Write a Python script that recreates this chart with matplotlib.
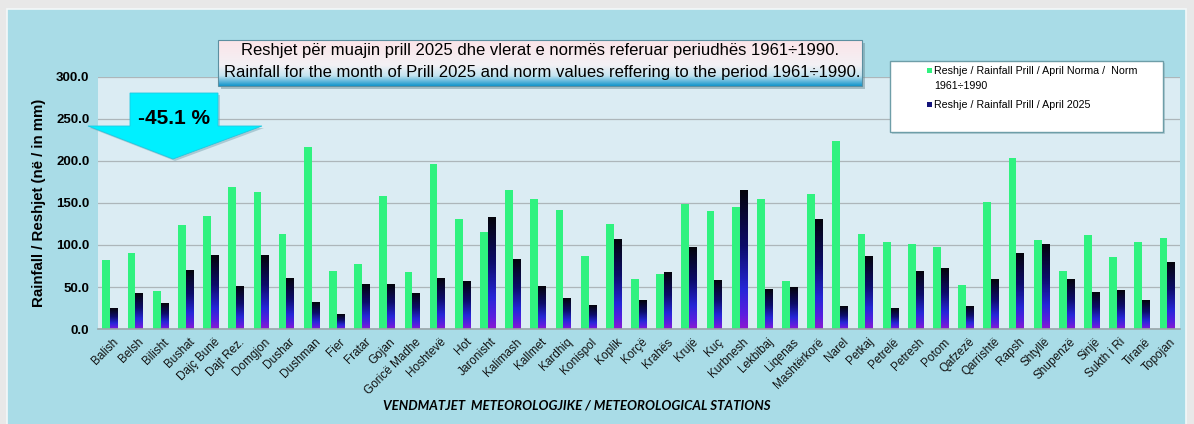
import numpy as np
import matplotlib
matplotlib.use("Agg")
import matplotlib.pyplot as plt
from matplotlib.colors import LinearSegmentedColormap
from matplotlib.patches import Rectangle, Polygon

# April rainfall per station: long term norm (1961-1990) and April 2025, mm
stations = ["Balish", "Belsh", "Bilisht", "Bushat", "Dajç Bunë", "Dajt Rez.",
            "Domgjon", "Dushar", "Dushman", "Fier", "Fratar", "Gojan",
            "Goricë Madhe", "Hoshtevë", "Hot", "Jaronisht", "Kalimash",
            "Kallmet", "Kardhiq", "Konispol", "Koplik", "Korçë", "Krahës",
            "Krujë", "Kuç", "Kurbnesh", "Lekbibaj", "Liqenas", "Mashtërkorë",
            "Narel", "Petkaj", "Petrelë", "Petresh", "Potom", "Qafzezë",
            "Qarrishtë", "Rapsh", "Shtyllë", "Shupenzë", "Sinjë", "Sukth i Ri",
            "Tiranë", "Topojan"]
norm_1961_1990 = [82, 91, 45, 124, 135, 169, 163, 113, 217, 69, 77, 158,
                  68, 197, 131, 115, 165, 155, 142, 87, 125, 60, 66,
                  149, 141, 145, 155, 57, 161, 224, 113, 104, 101, 98, 52,
                  151, 203, 106, 69, 112, 86, 103, 108]
april_2025 = [24, 42, 30, 70, 87, 50, 87, 60, 31, 17, 53, 53,
              42, 60, 56, 133, 83, 51, 36, 28, 107, 34, 67,
              97, 58, 165, 47, 49, 130, 27, 86, 24, 68, 72, 27,
              59, 90, 100, 59, 43, 46, 34, 79]
change_label = "-45.1 %"

W, H = 1194, 424
fig = plt.figure(figsize=(W / 100, H / 100), dpi=100)
fig.patch.set_facecolor("#e8e8e8")

# background panel, drawn in pixel coordinates
bg = fig.add_axes([0, 0, 1, 1], zorder=0)
bg.set_xlim(0, W)
bg.set_ylim(H, 0)
bg.axis("off")
bg.add_patch(Rectangle((7, 9), 1179, 420, facecolor="#a9dce7",
                       edgecolor="#f4f8f9", lw=1.2))

# main axes
ax = fig.add_axes([97.7 / W, 1 - 329 / H, 1082.3 / W, 252 / H], zorder=2)
ax.set_facecolor("#dbecf3")
x = np.arange(len(stations))

ax.bar(x - 0.155, norm_1961_1990, width=0.31, color="#30f27f", zorder=2)
dark = ax.bar(x + 0.14, april_2025, width=0.28, color="none", zorder=2)

# black -> blue -> purple fill for the 2025 bars
grad_cmap = LinearSegmentedColormap.from_list(
    "rain", [(0.0, "#8a1ad2"), (0.1, "#5a1ee0"), (0.28, "#2626d8"),
             (0.6, "#0c0c6a"), (1.0, "#04040c")])
grad = np.linspace(0, 1, 64).reshape(-1, 1)
for r in dark:
    x0, w, h = r.get_x(), r.get_width(), r.get_height()
    ax.imshow(grad, extent=[x0, x0 + w, 0, h], origin="lower",
              aspect="auto", cmap=grad_cmap, zorder=2)

ax.set_xlim(-0.5, len(stations) - 0.5)
ax.set_ylim(0, 300)
ax.set_yticks(np.arange(0, 301, 50))
ax.set_yticklabels([f"{v:.1f}" for v in range(0, 301, 50)],
                   fontsize=9.5, fontweight="bold", family="Liberation Sans")
ax.yaxis.grid(True, color="#adb6ba", lw=0.9, zorder=1)
ax.set_axisbelow(True)
ax.tick_params(axis="both", length=0, pad=6)
ax.tick_params(axis="x", pad=5)
ax.set_xticks(x + 0.1)
ax.set_xticklabels(stations, rotation=45, ha="right", va="top",
                   rotation_mode="anchor", fontsize=8.5, color="#111111",
                   family=["Liberation Sans Narrow", "Liberation Sans"])
for s in ["top", "right", "left"]:
    ax.spines[s].set_visible(False)
ax.spines["bottom"].set_color("#9aa6aa")
ax.spines["bottom"].set_linewidth(1.2)

ax.set_ylabel("Rainfall / Reshjet (në / in mm)", fontsize=10.8,
              fontweight="bold", family="Liberation Sans", labelpad=7)

# overlay: title box, arrow, legend, axis caption
ov = fig.add_axes([0, 0, 1, 1], zorder=3)
ov.set_xlim(0, W)
ov.set_ylim(H, 0)
ov.axis("off")
ov.patch.set_alpha(0)

title_cmap = LinearSegmentedColormap.from_list(
    "tbox", [(0.0, "#fbe4e8"), (0.55, "#f3f1f5"), (0.78, "#c4e4f0"),
             (1.0, "#1596cc")])
ov.add_patch(Rectangle((221, 43), 644, 46, facecolor="#6f8f99", alpha=0.5, lw=0))
ov.imshow(np.linspace(0, 1, 64).reshape(-1, 1), extent=[218, 862, 86, 40],
          origin="upper", aspect="auto", cmap=title_cmap, zorder=3)
ov.add_patch(Rectangle((218, 40), 644, 46, facecolor="none",
                       edgecolor="#5c8fa0", lw=0.8, zorder=4))
ov.text(540, 51, "Reshjet për muajin prill 2025 dhe vlerat e normës referuar periudhës 1961÷1990.",
        ha="center", va="center", fontsize=12, family="Liberation Sans", zorder=5)
ov.text(542, 72, "Rainfall for the month of Prill 2025 and norm values reffering to the period 1961÷1990.",
        ha="center", va="center", fontsize=12, family="Liberation Sans", zorder=5)

arrow_pts = [(130, 93), (218, 93), (218, 126), (262, 126), (173, 159),
             (88, 126), (130, 126)]
ov.add_patch(Polygon([(px + 2, py + 2) for px, py in arrow_pts],
                     facecolor="#7aa8b4", alpha=0.5, lw=0))
ov.add_patch(Polygon(arrow_pts, facecolor="#00f0ff", edgecolor="#20c8e0", lw=0.6))
ov.text(174, 119, change_label, ha="center", va="center", fontsize=15,
        fontweight="bold", family="Liberation Sans")

# legend box
ov.add_patch(Rectangle((892, 63), 273, 71, facecolor="#8fb2bb", alpha=0.5, lw=0))
ov.add_patch(Rectangle((890, 61), 273, 71, facecolor="white",
                       edgecolor="#6e9ea8", lw=1.0))
ov.add_patch(Rectangle((927, 68), 5, 5, facecolor="#30f27f", lw=0))
ov.add_patch(Rectangle((927, 102), 5, 5, facecolor="#14147a", lw=0))
leg_font = dict(fontsize=7.7, family=["Liberation Sans Narrow", "Liberation Sans"],
                va="center", ha="left")
ov.text(934, 71, "Reshje / Rainfall Prill / April Norma /  Norm", **leg_font)
ov.text(934, 86, "1961÷1990", **leg_font)
ov.text(934, 105, "Reshje / Rainfall Prill / April 2025", **leg_font)

ov.text(577, 405, "VENDMATJET  METEOROLOGJIKE / METEOROLOGICAL STATIONS",
        ha="center", va="center", fontsize=9.5, fontweight="bold",
        style="italic", family=["Lato", "DejaVu Sans"])

fig.savefig("out.png", dpi=100, facecolor=fig.get_facecolor())
